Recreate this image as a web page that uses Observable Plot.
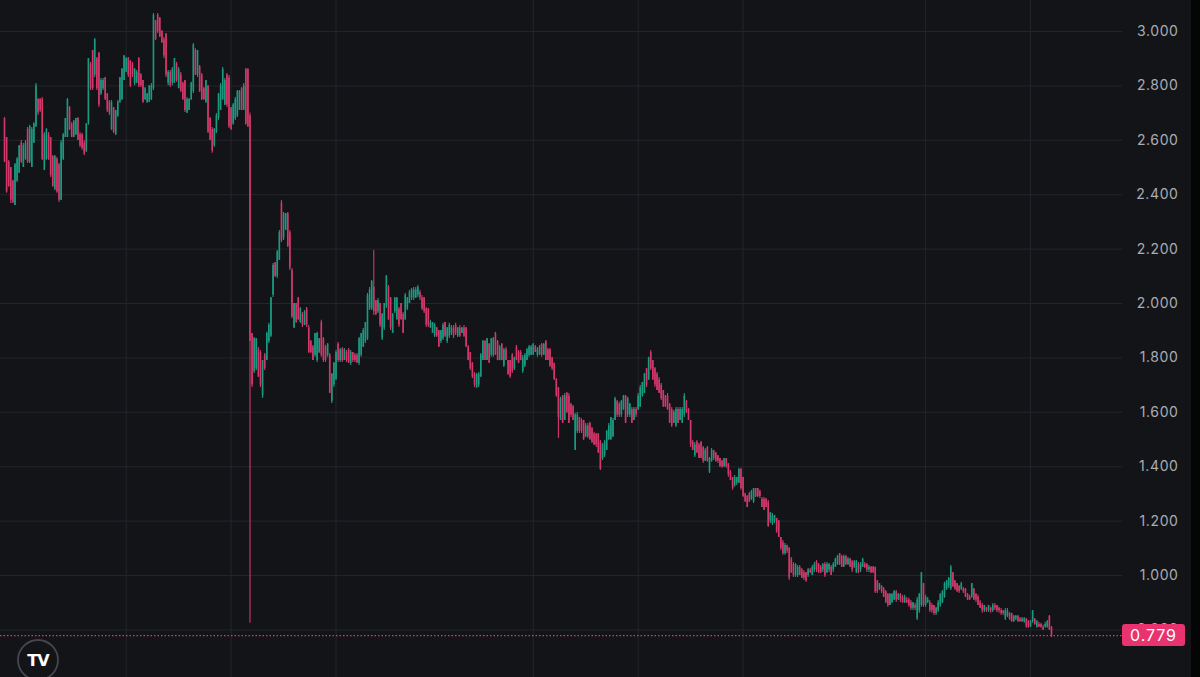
<!DOCTYPE html>
<html>
<head>
<meta charset="utf-8">
<script src="https://cdn.jsdelivr.net/npm/d3@7"></script>
<script src="https://cdn.jsdelivr.net/npm/@observablehq/plot@0.6"></script>
<style>
  html, body { margin: 0; padding: 0; background: #050506; overflow: hidden; }
  #chart svg { display: block; }
  #chart svg text { letter-spacing: 0.6px; }
</style>
</head>
<body>
<div id="chart"></div>
<script>
// ---- Price axis ticks ----
const yTicks = [0.8, 1.0, 1.2, 1.4, 1.6, 1.8, 2.0, 2.2, 2.4, 2.6, 2.8, 3.0];
// time grid lines (candle index where the date gridlines fall)
const xGrid = [58, 108, 158, 252, 302, 352, 439, 489];
const lastPrice = 0.779;

// ---- OHLC series ----
const open = [
// part 1
2.68,2.61,2.52,2.50,2.45,2.36,2.45,2.48,2.59,2.50,
2.53,2.64,2.52,2.50,2.59,2.65,2.75,2.75,2.75,2.49,
2.53,2.62,2.61,2.54,2.42,2.53,2.51,2.38,2.53,2.61,
2.61,2.72,2.66,2.61,2.62,2.68,2.62,2.62,2.59,2.56,
2.66,2.88,2.93,2.84,2.90,2.92,2.77,2.79,2.83,2.77,
2.74,2.64,2.72,2.62,2.69,2.74,2.75,2.82,2.85,2.90,
2.89,2.88,2.81,2.81,2.90,2.84,2.82,2.75,2.74,2.74,
2.75,2.79,3.04,3.06,3.05,3.00,2.97,2.99,2.81,2.85,
2.81,2.81,2.88,2.79,2.84,2.81,2.82,2.70,2.71,2.75,
2.78,2.93,2.84,2.87,2.84,2.79,2.74,2.80,2.68,2.64,
2.58,2.63,2.68,2.71,2.75,2.73,2.84,2.83,2.72,2.66,
2.68,2.69,2.71,2.79,2.71,2.86,2.86,2.69,
// part 2
1.89,1.75,1.76,1.83,1.82,1.66,1.81,1.79,1.86,1.88,
2.03,2.15,2.10,2.16,2.37,2.24,2.27,2.33,2.26,2.12,
1.91,2.00,2.02,1.93,1.96,1.92,1.98,1.91,1.86,1.84,
1.81,1.79,1.82,1.93,1.87,1.84,1.81,1.81,1.64,1.70,
1.72,1.85,1.79,1.83,1.79,1.82,1.83,1.78,1.82,1.81,
1.81,1.78,1.81,1.84,1.86,1.87,1.98,1.98,2.06,2.01,
1.97,2.00,1.87,1.91,1.99,2.06,2.02,1.89,1.97,1.94,
1.98,2.00,1.96,1.94,1.98,2.00,2.02,2.02,2.02,2.03,
2.04,2.02,2.02,1.98,1.98,1.91,1.89,1.88,1.91,1.90,
1.86,1.87,1.93,1.86,1.88,1.89,1.91,1.92,1.88,1.91,
1.89,1.91,1.91,
// part 3
1.84,1.82,1.78,1.74,1.69,1.70,1.73,1.79,1.86,1.79,
1.85,1.81,1.81,1.89,1.86,1.79,1.85,1.77,1.83,1.79,
1.79,1.81,1.76,1.84,1.82,1.82,1.75,1.77,1.79,1.81,
1.81,1.81,1.84,1.81,1.81,1.85,1.81,1.86,1.83,1.83,
1.80,1.78,1.72,1.69,1.57,1.66,1.57,1.67,1.66,1.63,
1.62,1.46,1.53,1.58,1.57,1.57,1.51,1.55,1.56,1.54,
1.52,1.52,1.52,1.49,1.43,1.44,1.46,1.50,1.50,1.51,
1.57,1.64,1.63,1.59,1.61,1.66,1.59,1.59,1.61,1.57,
1.61,1.61,1.62,1.66,1.67,1.76,1.72,1.82,1.79,1.76,
1.74,1.72,1.70,1.68,1.66,1.66,1.63,1.61,1.56,1.55,
1.61,1.57,1.56,1.59,1.64,1.61,1.57,1.49,1.44,1.49,
// part 4
1.48,1.49,1.47,1.42,1.47,1.38,1.42,1.46,1.45,1.44,
1.43,1.42,1.40,1.43,1.41,1.38,1.36,1.33,1.34,1.34,
1.39,1.36,1.30,1.29,1.30,1.28,1.27,1.32,1.32,1.31,
1.28,1.28,1.28,1.27,1.20,1.19,1.20,1.21,1.20,1.14,
1.12,1.08,1.11,1.10,1.06,1.04,1.00,1.00,1.03,1.02,
1.01,1.01,1.00,1.02,1.00,1.02,1.05,1.04,1.03,1.02,
1.04,1.01,1.02,1.03,1.02,1.03,1.04,1.08,1.07,1.03,
1.07,1.04,1.06,1.05,1.03,1.01,1.04,1.02,1.03,1.04,
1.04,1.02,1.03,1.03,1.03,0.98,0.95,0.96,0.95,0.94,
0.93,0.89,0.90,0.91,0.94,0.91,0.93,0.92,0.90,0.91,
0.91,0.90,0.88,0.89,0.84,0.87,0.89,0.97,0.89,0.90,
0.90,0.89,0.89,0.86,0.87,
// part 5
0.89,0.90,0.92,0.95,0.96,0.95,1.01,0.98,0.97,0.96,
0.95,0.95,0.95,0.93,0.92,0.92,0.95,0.93,0.92,0.90,
0.89,0.87,0.88,0.87,0.88,0.87,0.89,0.89,0.88,0.87,
0.87,0.84,0.85,0.86,0.86,0.83,0.84,0.85,0.84,0.83,
0.83,0.84,0.83,0.81,0.83,0.84,0.81,0.82,0.82,0.81,
0.81,0.81,0.85,0.81
];

const high = [
// part 1
2.684,2.610,2.526,2.500,2.452,2.515,2.537,2.581,2.599,2.588,
2.599,2.647,2.655,2.647,2.665,2.809,2.754,2.754,2.757,2.629,
2.643,2.629,2.610,2.544,2.544,2.537,2.515,2.599,2.625,2.680,
2.754,2.724,2.665,2.673,2.680,2.684,2.629,2.625,2.599,2.662,
2.901,2.886,2.930,2.974,2.904,2.923,2.827,2.827,2.831,2.772,
2.746,2.746,2.721,2.710,2.746,2.831,2.864,2.912,2.904,2.904,
2.893,2.886,2.864,2.857,2.904,2.846,2.820,2.794,2.772,2.801,
2.809,3.066,3.040,3.066,3.051,3.004,2.978,2.993,2.857,2.857,
2.868,2.901,2.886,2.868,2.849,2.813,2.820,2.757,2.754,2.813,
2.956,2.937,2.930,2.875,2.846,2.794,2.820,2.801,2.684,2.647,
2.643,2.699,2.772,2.809,2.868,2.827,2.846,2.838,2.721,2.735,
2.757,2.783,2.783,2.794,2.809,2.864,2.864,2.700,
// part 2
1.890,1.875,1.871,1.838,1.827,1.790,1.816,1.894,1.927,2.022,
2.147,2.151,2.195,2.268,2.379,2.335,2.331,2.335,2.268,2.129,
2.000,2.000,2.022,1.985,1.967,1.974,1.985,1.919,1.864,1.846,
1.890,1.894,1.871,1.938,1.875,1.846,1.853,1.816,1.743,1.783,
1.827,1.857,1.835,1.838,1.835,1.827,1.835,1.827,1.820,1.816,
1.816,1.875,1.890,1.908,1.930,2.037,2.059,2.085,2.195,2.011,
2.018,2.000,1.963,2.000,2.103,2.066,2.022,1.963,2.022,2.022,
1.985,2.000,1.967,2.037,2.022,2.048,2.055,2.059,2.059,2.066,
2.048,2.029,2.022,1.985,1.982,1.938,1.930,1.927,1.912,1.901,
1.901,1.927,1.930,1.912,1.927,1.919,1.919,1.927,1.912,1.919,
1.912,1.919,1.912,
// part 3
1.846,1.820,1.783,1.746,1.743,1.746,1.816,1.864,1.864,1.871,
1.853,1.871,1.875,1.894,1.864,1.846,1.853,1.835,1.838,1.790,
1.790,1.816,1.802,1.846,1.827,1.827,1.809,1.816,1.835,1.846,
1.846,1.853,1.846,1.838,1.846,1.853,1.853,1.864,1.835,1.835,
1.802,1.780,1.724,1.691,1.655,1.662,1.669,1.673,1.669,1.632,
1.625,1.596,1.599,1.581,1.577,1.570,1.559,1.559,1.563,1.544,
1.526,1.522,1.522,1.496,1.485,1.496,1.533,1.559,1.581,1.577,
1.655,1.643,1.636,1.643,1.662,1.662,1.655,1.632,1.618,1.618,
1.618,1.669,1.699,1.710,1.743,1.761,1.802,1.827,1.790,1.765,
1.746,1.728,1.706,1.680,1.662,1.669,1.632,1.618,1.607,1.618,
1.618,1.618,1.618,1.669,1.643,1.614,1.570,1.496,1.489,1.496,
// part 4
1.485,1.493,1.474,1.467,1.474,1.434,1.467,1.460,1.452,1.441,
1.430,1.423,1.430,1.430,1.412,1.386,1.361,1.368,1.361,1.394,
1.394,1.361,1.302,1.294,1.305,1.313,1.320,1.320,1.320,1.313,
1.287,1.287,1.283,1.276,1.232,1.228,1.221,1.210,1.202,1.140,
1.129,1.118,1.111,1.103,1.066,1.048,1.044,1.037,1.037,1.026,
1.018,1.011,1.026,1.026,1.037,1.048,1.055,1.044,1.037,1.044,
1.048,1.048,1.044,1.037,1.048,1.063,1.074,1.081,1.074,1.074,
1.074,1.066,1.063,1.055,1.055,1.055,1.048,1.048,1.063,1.048,
1.044,1.037,1.033,1.033,1.030,0.982,0.971,0.963,0.956,0.945,
0.934,0.934,0.934,0.945,0.945,0.934,0.934,0.927,0.927,0.919,
0.916,0.908,0.901,0.897,0.919,0.934,1.011,0.971,0.927,0.919,
0.908,0.897,0.890,0.883,0.908,
// part 5
0.934,0.945,0.975,0.982,0.993,1.037,1.011,0.982,0.971,0.963,
0.975,0.956,0.952,0.934,0.927,0.971,0.952,0.934,0.927,0.908,
0.897,0.890,0.883,0.890,0.883,0.897,0.897,0.890,0.883,0.879,
0.871,0.879,0.879,0.864,0.861,0.853,0.853,0.853,0.846,0.846,
0.846,0.842,0.835,0.835,0.871,0.842,0.835,0.828,0.824,0.817,
0.828,0.835,0.853,0.812
];

const low = [
// part 1
2.519,2.405,2.427,2.368,2.368,2.360,2.445,2.478,2.515,2.500,
2.526,2.515,2.515,2.500,2.588,2.647,2.691,2.702,2.526,2.489,
2.526,2.526,2.463,2.427,2.415,2.405,2.371,2.379,2.526,2.610,
2.610,2.636,2.610,2.610,2.618,2.599,2.574,2.563,2.544,2.555,
2.655,2.783,2.783,2.831,2.783,2.721,2.765,2.783,2.746,2.702,
2.691,2.636,2.625,2.618,2.684,2.735,2.746,2.820,2.849,2.831,
2.794,2.831,2.801,2.809,2.794,2.794,2.735,2.746,2.735,2.739,
2.746,2.783,2.967,2.993,2.978,2.956,2.901,2.831,2.801,2.794,
2.801,2.809,2.813,2.790,2.776,2.746,2.702,2.699,2.710,2.746,
2.772,2.838,2.831,2.776,2.746,2.746,2.735,2.625,2.599,2.552,
2.574,2.625,2.673,2.710,2.746,2.728,2.721,2.643,2.636,2.655,
2.673,2.684,2.710,2.710,2.710,2.655,2.647,0.824,
// part 2
1.691,1.743,1.754,1.728,1.691,1.651,1.754,1.790,1.853,1.875,
2.022,2.096,2.092,2.158,2.224,2.232,2.268,2.206,2.121,1.945,
1.908,1.927,1.938,1.927,1.912,1.919,1.912,1.816,1.816,1.790,
1.802,1.783,1.816,1.802,1.783,1.783,1.802,1.669,1.632,1.691,
1.717,1.783,1.783,1.783,1.790,1.783,1.780,1.772,1.783,1.783,
1.780,1.772,1.802,1.838,1.853,1.864,1.974,1.974,1.956,1.956,
1.963,1.912,1.864,1.901,1.982,1.938,1.901,1.890,1.963,1.938,
1.912,1.938,1.890,1.938,1.974,2.000,2.011,2.011,2.018,2.022,
2.011,1.974,1.963,1.912,1.912,1.908,1.890,1.875,1.875,1.838,
1.853,1.864,1.875,1.853,1.871,1.882,1.871,1.882,1.875,1.875,
1.890,1.875,1.838,
// part 3
1.790,1.754,1.724,1.691,1.688,1.691,1.728,1.790,1.790,1.790,
1.780,1.802,1.802,1.809,1.790,1.790,1.790,1.765,1.790,1.735,
1.724,1.743,1.754,1.790,1.780,1.790,1.743,1.765,1.790,1.802,
1.809,1.809,1.820,1.802,1.809,1.802,1.809,1.790,1.790,1.765,
1.754,1.717,1.655,1.504,1.570,1.559,1.570,1.596,1.559,1.581,
1.570,1.460,1.522,1.522,1.522,1.496,1.507,1.504,1.496,1.485,
1.478,1.471,1.449,1.386,1.423,1.434,1.460,1.496,1.496,1.507,
1.570,1.581,1.581,1.581,1.607,1.559,1.581,1.581,1.559,1.570,
1.581,1.607,1.618,1.655,1.669,1.691,1.717,1.754,1.717,1.691,
1.680,1.669,1.643,1.618,1.618,1.607,1.559,1.544,1.559,1.544,
1.559,1.570,1.559,1.581,1.596,1.570,1.471,1.460,1.434,1.449,
// part 4
1.430,1.430,1.412,1.419,1.416,1.375,1.416,1.423,1.416,1.412,
1.397,1.394,1.397,1.394,1.361,1.349,1.313,1.324,1.331,1.338,
1.313,1.287,1.269,1.250,1.269,1.276,1.265,1.287,1.287,1.283,
1.250,1.239,1.250,1.177,1.191,1.184,1.191,1.155,1.140,1.092,
1.074,1.074,1.081,0.982,1.007,0.993,0.993,0.993,1.000,0.989,
0.982,0.975,0.993,1.007,1.000,1.011,1.011,1.007,1.007,1.011,
0.993,1.007,1.011,1.000,1.011,1.030,1.037,1.037,1.030,1.030,
1.037,1.037,1.030,1.011,1.026,1.007,1.007,1.011,1.030,1.026,
1.011,1.011,1.007,1.007,0.934,0.934,0.945,0.934,0.919,0.897,
0.883,0.890,0.897,0.908,0.901,0.908,0.901,0.897,0.897,0.897,
0.883,0.871,0.871,0.871,0.835,0.861,0.883,0.883,0.883,0.897,
0.864,0.861,0.853,0.853,0.864,
// part 5
0.883,0.897,0.916,0.945,0.952,0.945,0.956,0.945,0.938,0.934,
0.945,0.934,0.919,0.908,0.908,0.916,0.908,0.901,0.890,0.879,
0.861,0.864,0.864,0.864,0.861,0.864,0.871,0.864,0.861,0.853,
0.853,0.835,0.846,0.835,0.828,0.828,0.835,0.828,0.828,0.828,
0.824,0.806,0.806,0.809,0.824,0.817,0.806,0.809,0.806,0.798,
0.806,0.806,0.798,0.772
];

const close = [
// part 1
2.52,2.41,2.43,2.38,2.37,2.51,2.53,2.58,2.52,2.58,
2.59,2.52,2.65,2.64,2.66,2.80,2.70,2.71,2.53,2.62,
2.64,2.53,2.47,2.43,2.54,2.41,2.38,2.59,2.62,2.68,
2.75,2.64,2.61,2.67,2.68,2.60,2.58,2.57,2.55,2.66,
2.90,2.79,2.79,2.97,2.79,2.73,2.82,2.82,2.75,2.71,
2.70,2.74,2.63,2.71,2.74,2.83,2.86,2.91,2.90,2.84,
2.80,2.84,2.86,2.85,2.80,2.80,2.74,2.79,2.77,2.80,
2.80,3.06,2.97,3.00,2.98,2.96,2.91,2.84,2.85,2.80,
2.86,2.90,2.82,2.86,2.78,2.75,2.71,2.75,2.75,2.81,
2.95,2.84,2.93,2.78,2.75,2.75,2.82,2.63,2.60,2.56,
2.64,2.69,2.77,2.80,2.86,2.82,2.73,2.65,2.64,2.73,
2.75,2.78,2.78,2.71,2.80,2.66,2.65,1.86,
// part 2
1.70,1.87,1.87,1.73,1.70,1.79,1.76,1.89,1.92,2.02,
2.14,2.10,2.19,2.26,2.23,2.33,2.33,2.21,2.13,1.95,
2.00,1.93,1.94,1.98,1.92,1.97,1.92,1.82,1.82,1.79,
1.89,1.89,1.87,1.81,1.79,1.79,1.85,1.67,1.74,1.78,
1.82,1.79,1.83,1.79,1.83,1.79,1.78,1.82,1.79,1.79,
1.78,1.87,1.89,1.90,1.93,2.03,2.05,2.08,1.97,1.96,
2.01,1.92,1.96,2.00,2.10,1.94,1.91,1.96,2.02,2.02,
1.92,1.94,1.89,2.03,2.02,2.04,2.05,2.05,2.05,2.06,
2.02,1.98,1.97,1.92,1.92,1.93,1.93,1.92,1.88,1.84,
1.90,1.92,1.88,1.91,1.92,1.91,1.88,1.89,1.91,1.88,
1.91,1.88,1.84,
// part 3
1.79,1.76,1.73,1.70,1.74,1.74,1.81,1.86,1.79,1.87,
1.78,1.87,1.87,1.81,1.79,1.84,1.79,1.83,1.79,1.74,
1.73,1.75,1.80,1.79,1.78,1.79,1.80,1.81,1.83,1.84,
1.84,1.85,1.82,1.83,1.84,1.81,1.85,1.79,1.79,1.77,
1.76,1.72,1.66,1.58,1.65,1.56,1.66,1.60,1.56,1.59,
1.57,1.59,1.59,1.53,1.53,1.50,1.55,1.51,1.50,1.49,
1.48,1.48,1.45,1.39,1.48,1.49,1.53,1.55,1.58,1.57,
1.65,1.59,1.59,1.64,1.66,1.56,1.65,1.63,1.56,1.61,
1.59,1.66,1.69,1.71,1.74,1.70,1.80,1.76,1.72,1.70,
1.68,1.67,1.65,1.62,1.62,1.61,1.56,1.55,1.60,1.61,
1.56,1.61,1.61,1.66,1.60,1.57,1.48,1.46,1.48,1.45,
// part 4
1.43,1.43,1.42,1.46,1.42,1.43,1.46,1.43,1.42,1.42,
1.40,1.40,1.43,1.40,1.37,1.35,1.32,1.36,1.36,1.39,
1.32,1.29,1.27,1.25,1.27,1.31,1.32,1.29,1.29,1.29,
1.25,1.24,1.25,1.18,1.23,1.22,1.22,1.16,1.14,1.10,
1.08,1.11,1.09,0.99,1.01,1.00,1.04,1.03,1.00,0.99,
0.99,0.98,1.02,1.01,1.03,1.04,1.02,1.01,1.01,1.04,
1.00,1.04,1.04,1.00,1.04,1.06,1.07,1.04,1.03,1.07,
1.04,1.06,1.03,1.02,1.05,1.05,1.01,1.04,1.06,1.03,
1.02,1.03,1.01,1.01,0.94,0.94,0.97,0.94,0.92,0.90,
0.89,0.93,0.93,0.94,0.91,0.93,0.91,0.90,0.92,0.90,
0.89,0.88,0.90,0.88,0.91,0.93,1.01,0.89,0.92,0.91,
0.87,0.87,0.86,0.88,0.90,
// part 5
0.93,0.94,0.97,0.98,0.99,1.03,0.96,0.95,0.94,0.94,
0.97,0.94,0.92,0.91,0.91,0.97,0.91,0.91,0.89,0.88,
0.87,0.89,0.87,0.89,0.87,0.89,0.88,0.87,0.87,0.86,
0.86,0.87,0.87,0.84,0.83,0.85,0.85,0.83,0.83,0.84,
0.84,0.81,0.81,0.83,0.87,0.82,0.83,0.81,0.81,0.80,
0.82,0.83,0.80,0.779
];

// ---- styles ----
const BG = "#131418";
const GRID = "#24252b";
const RED = "#d3386b";
const TEAL = "#1b9a82";
const PINK = "#e8336e";
const LABEL = "#a9acb3";
const FONT = "Inter, Roboto, 'Noto Sans', sans-serif";

const N = close.length;
const candles = d3.range(N).map(i => ({i, o: open[i], h: high[i], l: low[i], c: close[i]}));
const colorOf = d => d.c >= d.o ? TEAL : RED;
const fmt = d3.format(".3f");

const W = 1191, H = 677, MR = 69;

const chart = Plot.plot({
  width: W,
  height: H,
  marginLeft: 0,
  marginRight: MR,
  marginTop: 0,
  marginBottom: 0,
  style: {background: BG, overflow: "visible"},
  x: {type: "linear", domain: [0, N - 1], range: [4, 1051], axis: null},
  y: {domain: [0.625, 3.114], range: [H, 0], axis: null},
  marks: [
    Plot.ruleY(yTicks, {stroke: GRID, strokeWidth: 1}),
    Plot.ruleX(xGrid, {stroke: GRID, strokeWidth: 1}),
    Plot.ruleX(candles, {x: "i", y1: "l", y2: "h", stroke: colorOf, strokeWidth: 1.1}),
    Plot.ruleX(candles, {x: "i", y1: "o", y2: "c", stroke: colorOf, strokeWidth: 1.6}),
    Plot.ruleY([lastPrice], {stroke: PINK, strokeWidth: 1.2, strokeDasharray: "1.5,2"}),
    Plot.text(yTicks, {
      y: d => d, text: d => fmt(d), frameAnchor: "right", textAnchor: "end",
      dx: 56, fill: LABEL, fontSize: 14, fontFamily: FONT
    })
  ]
});

document.getElementById("chart").appendChild(chart);

// ---- last price badge and logo ----
const svg = d3.select(chart);
const py = chart.scale("y").apply(lastPrice);
const bx = W - MR;
const badge = svg.append("g");
badge.append("rect")
  .attr("x", bx).attr("y", py - 11).attr("width", 63).attr("height", 22)
  .attr("rx", 3).attr("fill", PINK);
badge.append("text")
  .attr("x", bx + 31.5).attr("y", py).attr("dy", "0.36em")
  .attr("text-anchor", "middle").attr("fill", "#ffffff")
  .attr("font-family", FONT).attr("font-size", 16)
  .style("letter-spacing", "0.9px")
  .text(fmt(lastPrice));

const logo = svg.append("g");
logo.append("circle").attr("cx", 38).attr("cy", 660).attr("r", 20)
  .attr("fill", BG).attr("stroke", "#45474e").attr("stroke-width", 1.8);
logo.append("text").attr("x", 38).attr("y", 660).attr("dy", "0.36em")
  .attr("text-anchor", "middle").attr("fill", "#ffffff")
  .attr("font-family", "'DejaVu Sans', sans-serif").attr("font-weight", 900)
  .attr("font-size", 16).style("letter-spacing", "-1px")
  .text("TV");
</script>
</body>
</html>
